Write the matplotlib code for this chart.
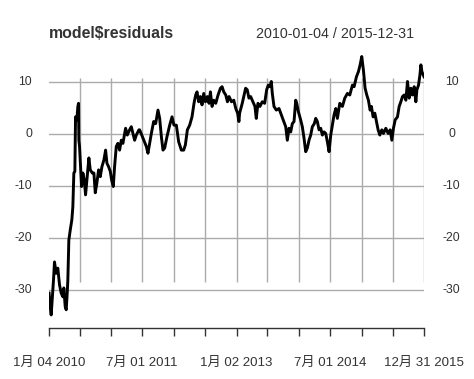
import matplotlib
matplotlib.use("Agg")
import matplotlib.pyplot as plt
import matplotlib.transforms as mtransforms
import numpy as np
import pandas as pd

# decimal-year positions and residual values
t_years = [
    2010.010, 2010.027, 2010.043, 2010.059, 2010.080, 2010.096, 2010.123, 2010.149, 2010.176, 2010.203,
    2010.229, 2010.245, 2010.267, 2010.283, 2010.299, 2010.309, 2010.325, 2010.347, 2010.373, 2010.389,
    2010.405, 2010.421, 2010.432, 2010.453, 2010.469, 2010.480, 2010.485, 2010.496, 2010.512, 2010.528,
    2010.549, 2010.571, 2010.592, 2010.613, 2010.645, 2010.667, 2010.699, 2010.725, 2010.747, 2010.773,
    2010.800, 2010.827, 2010.853, 2010.885, 2010.912, 2010.933, 2010.960, 2010.987, 2011.008, 2011.035,
    2011.056, 2011.083, 2011.109, 2011.136, 2011.163, 2011.189, 2011.216, 2011.232, 2011.259, 2011.296,
    2011.323, 2011.349, 2011.376, 2011.403, 2011.445,
    2011.456, 2011.563, 2011.589, 2011.643, 2011.680, 2011.712, 2011.749, 2011.776, 2011.803, 2011.829,
    2011.856, 2011.893, 2011.936, 2011.973, 2012.005, 2012.043, 2012.080, 2012.123, 2012.160, 2012.187,
    2012.219, 2012.256, 2012.293, 2012.325, 2012.352, 2012.373, 2012.400, 2012.427, 2012.453, 2012.480,
    2012.507, 2012.539, 2012.565, 2012.587, 2012.613, 2012.640, 2012.672, 2012.709, 2012.747, 2012.773,
    2012.800, 2012.832, 2012.859, 2012.885, 2012.923, 2012.960, 2012.992, 2013.019, 2013.040,
    2013.051, 2013.093, 2013.147, 2013.173, 2013.200, 2013.227, 2013.264, 2013.296, 2013.317, 2013.344,
    2013.376, 2013.413, 2013.451, 2013.483, 2013.509, 2013.536, 2013.557, 2013.573, 2013.600, 2013.637,
    2013.680, 2013.717, 2013.749, 2013.787, 2013.813, 2013.840, 2013.867, 2013.893, 2013.920, 2013.947,
    2013.963, 2013.989, 2014.027, 2014.053, 2014.080, 2014.107, 2014.133, 2014.160, 2014.187, 2014.213,
    2014.245, 2014.267, 2014.293, 2014.320, 2014.347, 2014.373, 2014.400, 2014.427, 2014.453, 2014.480,
    2014.507, 2014.533, 2014.560, 2014.587, 2014.613, 2014.651, 2014.693, 2014.731, 2014.773, 2014.811,
    2014.853, 2014.880, 2014.917, 2014.949, 2014.976, 2015.003, 2015.029, 2015.056, 2015.083, 2015.109,
    2015.136, 2015.157, 2015.184, 2015.211, 2015.237, 2015.264, 2015.291, 2015.323, 2015.349, 2015.387,
    2015.424, 2015.456, 2015.483, 2015.509, 2015.536, 2015.573, 2015.600, 2015.627, 2015.653, 2015.680,
    2015.707, 2015.733, 2015.760, 2015.787, 2015.813, 2015.840, 2015.867, 2015.883, 2015.909, 2015.931,
    2015.947, 2015.963, 2015.997,
]
residuals = [
    -30.6, -33.2, -34.8, -31.9, -28.1, -24.6, -26.8, -25.8, -29.0, -30.6,
    -31.3, -29.6, -33.2, -33.8, -30.6, -28.1, -20.4, -18.5, -16.5, -14.0,
    -7.5, -7.2, 3.3, 2.7, 5.3, 5.9, -1.2, -2.4, -6.3, -10.1,
    -7.5, -8.8, -11.7, -8.8, -4.6, -6.9, -7.5, -7.5, -11.3, -9.4,
    -6.9, -8.2, -6.3, -5.0, -3.1, -5.6, -6.3, -7.2, -8.8, -10.1,
    -6.3, -2.4, -1.8, -3.1, -1.2, -1.8, 0.1, 1.1, -0.2, 0.8,
    1.4, 0.1, -1.2, -0.2, 0.8,
    0.8, -2.4, -3.7, 0.1, 2.4, 2.0, 4.6, 3.0, -0.5, -3.1,
    -2.7, -0.5, 1.7, 3.3, 1.7, 1.7, -1.5, -3.1, -3.1, -2.1,
    0.8, 1.7, 3.3, 5.9, 7.5, 8.1, 6.2, 7.2, 5.6, 7.8,
    6.2, 7.2, 5.9, 8.1, 5.3, 6.5, 5.9, 7.5, 8.8, 9.1,
    8.1, 7.5, 6.2, 7.2, 6.2, 6.5, 4.9, 4.0, 2.4,
    4.0, 5.9, 8.8, 8.5, 6.9, 7.2, 6.2, 5.3, 3.0, 5.9,
    5.3, 6.2, 5.9, 8.5, 9.4, 9.1, 10.1, 7.8, 5.3, 4.6,
    4.9, 3.7, 2.7, 1.4, -1.2, 1.1, 0.4, 2.0, 2.4, 6.5,
    5.9, 4.3, 2.7, 1.4, -0.8, -3.4, -2.7, -1.2, -0.2, 1.4,
    2.0, 3.0, 2.4, 0.8, 1.1, -0.2, 0.4, 0.1, -1.5, -3.4,
    -0.2, 1.7, 3.7, 4.9, 3.0, 5.9, 5.3, 6.9, 7.8, 7.5,
    9.4, 9.1, 11.0, 12.0, 13.3, 14.9, 12.3, 8.8, 7.5, 6.5,
    4.6, 5.3, 3.3, 4.0, 2.4, 0.8, -0.2, 0.8, 0.1, 1.1,
    0.1, 0.8, -1.2, 1.1, 2.7, 3.3, 5.3, 6.2, 7.2, 7.5,
    6.5, 10.1, 6.9, 8.8, 7.5, 9.1, 6.2, 8.5, 9.4, 11.3,
    13.3, 12.0, 11.0,
]

tick_dates = ["2010-01-04", "2010-07-01", "2011-01-03", "2011-07-01", "2012-01-04",
              "2012-07-02", "2013-01-02", "2013-07-01", "2014-01-02", "2014-07-01",
              "2015-01-05", "2015-07-01", "2015-12-31"]
tick_labels = ["1月 04 2010", "", "", "7月 01 2011", "", "", "1月 02 2013",
               "", "", "7月 01 2014", "", "", "12月 31 2015"]
y_ticks = [10, 0, -10, -20, -30]
title_text = "model$residuals"
range_text = "2010-01-04 / 2015-12-31"


def dec_to_date(y):
    year = int(np.floor(y))
    start = pd.Timestamp(year=year, month=1, day=1)
    return start + pd.Timedelta(days=(y - year) * 365.25)


dates = [dec_to_date(v) for v in t_years]
tdates = [pd.Timestamp(d) for d in tick_dates]

fam = ["Liberation Sans", "Noto Sans CJK SC", "DejaVu Sans"]
plt.rcParams["font.family"] = fam
txt = "#333333"
grid_c = "#ABABAB"

fig = plt.figure(figsize=(4.74, 3.79), dpi=100)
ax = fig.add_axes([49 / 474, 1 - 328 / 379, 375 / 474, 278 / 379])
ax.set_xlim(tdates[0], tdates[-1])
y_top = (134 - 50) / 5.2
y_bot = (134 - 328) / 5.2
ax.set_ylim(y_bot, y_top)

for s in ["top", "right", "left", "bottom"]:
    ax.spines[s].set_visible(False)

for yv in y_ticks:
    ax.axhline(yv, color=grid_c, lw=1.0, zorder=1)
v_top = (134 - 78) / 5.2
v_bot = (134 - 282) / 5.2
ax.vlines(tdates[1:], v_bot, v_top, color=grid_c, lw=1.0, zorder=1)

ax.plot(dates, residuals, color="black", lw=2.1, zorder=3)

ax.set_xticks(tdates)
ax.set_xticklabels(tick_labels, fontsize=9.5, color=txt)
ax.tick_params(axis="x", length=6, width=1.0, color=txt, pad=15, direction="out")
ax.spines["bottom"].set_visible(True)
ax.spines["bottom"].set_color(txt)
ax.spines["bottom"].set_linewidth(1.0)

ax.set_yticks([])
blend = mtransforms.blended_transform_factory(fig.transFigure, ax.transData)
for yv in y_ticks:
    ax.text(32 / 474, yv, str(yv), transform=blend, ha="right", va="center",
            fontsize=8.8, color=txt)
    ax.text(451.5 / 474, yv, str(yv), transform=blend, ha="center", va="center",
            fontsize=8.8, color=txt)

fig.text(49 / 474, 1 - 34 / 379, title_text, ha="left", va="center", fontsize=11.4,
         fontweight="bold", color=txt)
fig.text(414 / 474, 1 - 34 / 379, range_text, ha="right", va="center", fontsize=10.3, color=txt)

fig.savefig("out.png", dpi=100, facecolor="white")
